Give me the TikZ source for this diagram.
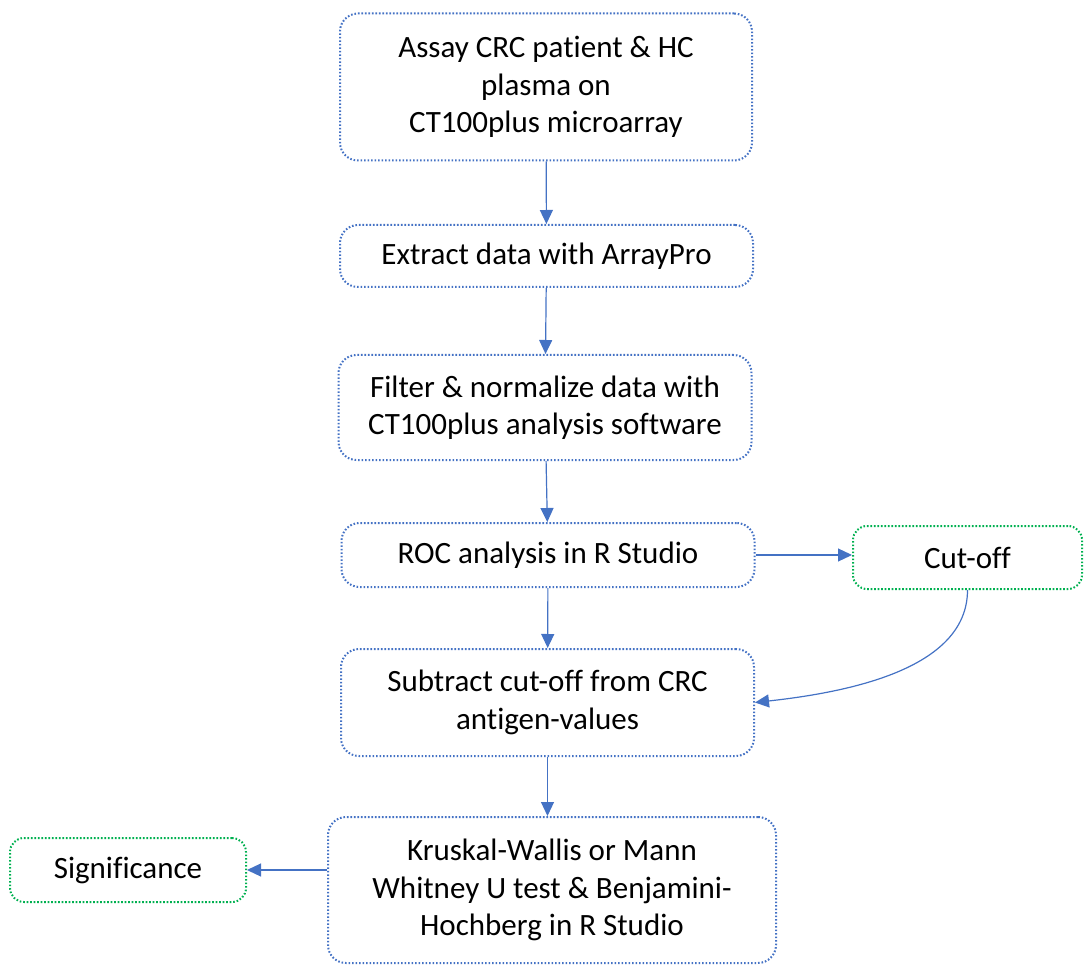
\documentclass[tikz,border=0pt]{standalone}
\usepackage{fontspec}
\setmainfont{Carlito}[Ligatures=NoCommon]
\usetikzlibrary{arrows.meta}
\definecolor{boxblue}{HTML}{4472C4}
\definecolor{boxgreen}{HTML}{00B050}
\tikzset{
  stepbox/.style={draw=boxblue, line width=2pt, dash pattern=on 1.6pt off 1.9pt,
    rounded corners=18pt, align=center, inner sep=0pt,
    font=\fontsize{31}{37.5}\selectfont},
  resultbox/.style={stepbox, draw=boxgreen, rounded corners=14pt},
  flow/.style={draw=boxblue, line width=1.2pt,
    -{Triangle[length=14pt,width=13pt]}}
}
\begin{document}
\begin{tikzpicture}[x=1pt,y=-1pt]
\useasboundingbox (0,0) rectangle (1084,965);
\node[stepbox, minimum width=412pt, minimum height=147pt] (assay) at (546,87)
  {Assay CRC patient \& HC\\plasma on\\CT100plus microarray};
\node[stepbox, minimum width=413pt, minimum height=62pt] (extract) at (546.5,256)
  {Extract data with ArrayPro};
\node[stepbox, minimum width=413pt, minimum height=105pt] (filter) at (545,407.5)
  {Filter \& normalize data with\\CT100plus analysis software};
\node[stepbox, minimum width=413pt, minimum height=64pt] (roc) at (548,555)
  {ROC analysis in R Studio};
\node[resultbox, minimum width=229pt, minimum height=63pt] (cut) at (967.5,557.5)
  {Cut-off};
\node[stepbox, minimum width=413pt, minimum height=107pt] (subtract) at (547.5,702.5)
  {Subtract cut-off from CRC\\antigen-values};
\node[stepbox, minimum width=448pt, minimum height=146pt] (test) at (552,890)
  {Kruskal-Wallis or Mann\\Whitney U test \& Benjamini-\\Hochberg in R Studio};
\node[resultbox, minimum width=236pt, minimum height=64pt] (sig) at (128,870)
  {Significance};

\draw[flow] (assay) -- (extract);
\draw[flow] (extract) -- (filter);
\draw[flow] (filter) -- (roc);
\draw[flow] (roc) -- (subtract);
\draw[flow] (subtract.south) -- (test.north -| subtract.south);
\draw[flow] (roc.east) -- (roc.east -| cut.west);
\draw[flow] (cut.south) .. controls ++(0,80) and ++(90,-10) .. (subtract.east);
\draw[flow] (test.west |- sig.east) -- (sig.east);
\end{tikzpicture}
\end{document}
